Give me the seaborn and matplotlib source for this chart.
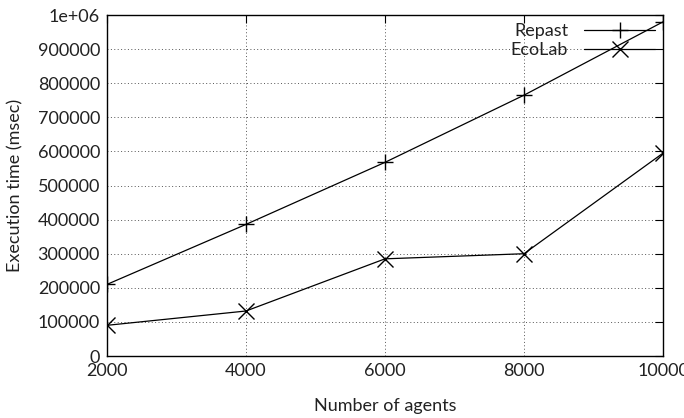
import matplotlib
matplotlib.use("Agg")
import matplotlib.pyplot as plt
import seaborn as sns
import pandas as pd

agents = [2000, 4000, 6000, 8000, 10000]
repast = [210000, 386000, 568000, 765000, 980000]
ecolab = [90000, 132000, 285000, 300000, 595000]
series_names = ["Repast", "EcoLab"]
yticks = [0, 100000, 200000, 300000, 400000, 500000, 600000, 700000, 800000, 900000, 1000000]
ylabels = ["0", "100000", "200000", "300000", "400000", "500000", "600000", "700000", "800000", "900000", "1e+06"]
xticks = [2000, 4000, 6000, 8000, 10000]

df = pd.DataFrame({
    "agents": agents * 2,
    "time": repast + ecolab,
    "series": [series_names[0]] * len(agents) + [series_names[1]] * len(agents),
})

sns.set_theme(style="white")
plt.rcParams["font.family"] = ["Lato", "DejaVu Sans"]
txtcol = "#222222"

fig = plt.figure(figsize=(6.84, 4.18), dpi=100)
ax = fig.add_axes([0.1564, 0.1483, 0.9693 - 0.1564, 0.964 - 0.1483])

sns.lineplot(data=df, x="agents", y="time", hue="series", style="series",
             markers={"Repast": "+", "EcoLab": "x"}, dashes=False,
             palette={"Repast": "black", "EcoLab": "black"},
             linewidth=0.9, markersize=12, markeredgewidth=1.0,
             markeredgecolor="black", ax=ax, legend=False)

ax.set_xlim(2000, 10000)
ax.set_ylim(0, 1000000)
ax.set_xticks(xticks)
ax.set_xticklabels([str(x) for x in xticks])
ax.set_yticks(yticks)
ax.set_yticklabels(ylabels)
ax.grid(True, linestyle=(0, (1, 2.5)), color="#555555", linewidth=0.7)
ax.tick_params(direction="in", length=6, width=0.8, top=True, right=True,
               labelsize=13, colors="black", labelcolor=txtcol, pad=5)
for sp in ax.spines.values():
    sp.set_color("black")
    sp.set_linewidth(1.0)
ax.set_xlabel("Number of agents", fontsize=13, labelpad=14, color=txtcol)
ax.set_ylabel("Execution time (msec)", fontsize=13, labelpad=10, color=txtcol)

from matplotlib.lines import Line2D
handles = [Line2D([], [], color="black", lw=0.9, marker="+", markersize=12, markeredgewidth=1.0),
           Line2D([], [], color="black", lw=0.9, marker="x", markersize=12, markeredgewidth=1.0)]
leg = ax.legend(handles, series_names, loc="upper right", frameon=False, markerfirst=False,
                fontsize=13, handlelength=3.9, borderaxespad=0.1, borderpad=0.35,
                labelspacing=0.15, handletextpad=0.9)
for t in leg.get_texts():
    t.set_ha("right")
    t.set_color(txtcol)

fig.savefig("out.png", dpi=100)
